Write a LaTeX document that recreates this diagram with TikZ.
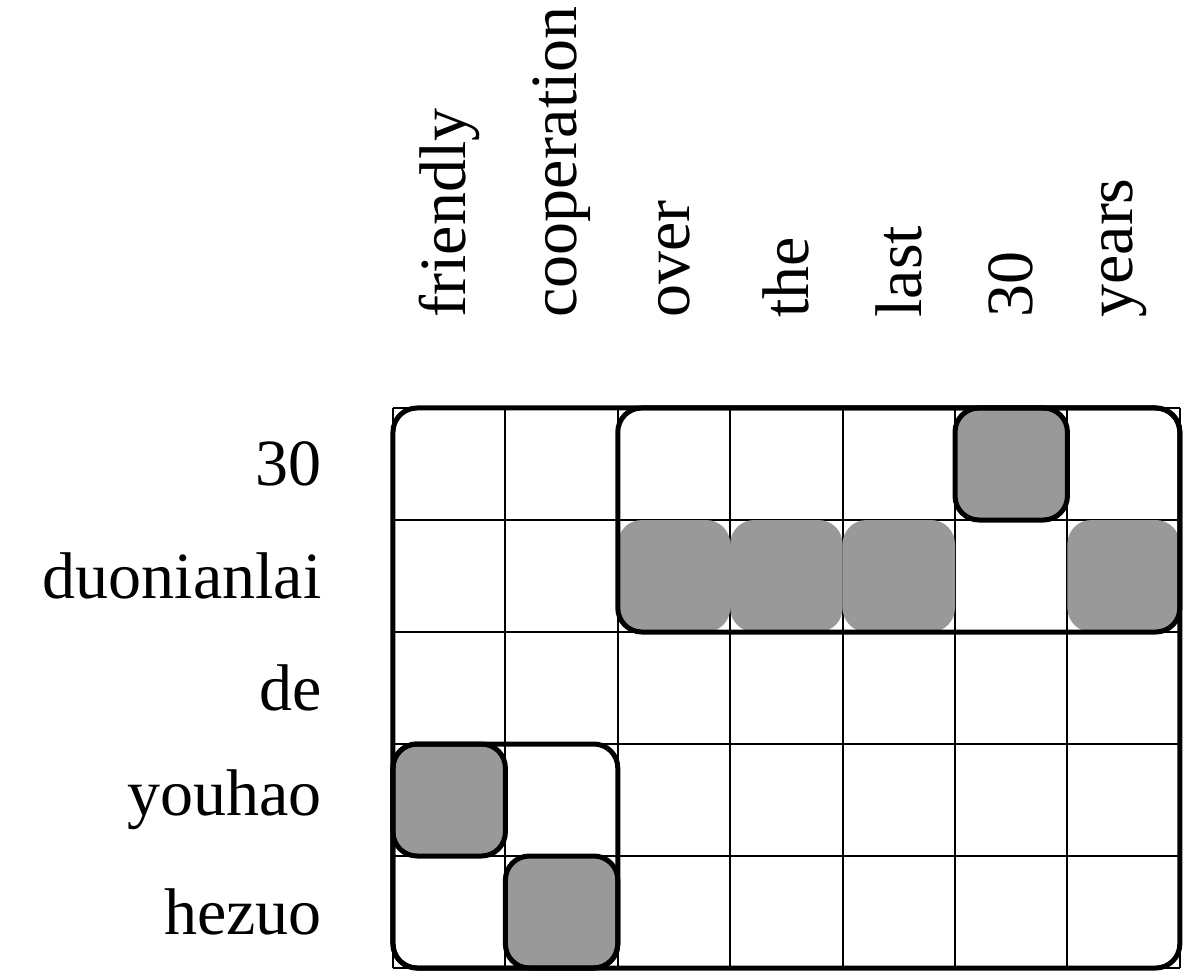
\documentclass[tikz,border=0pt]{standalone}
\usepackage{fontspec}
\setmainfont{Liberation Serif}
\begin{document}
\begin{tikzpicture}[x=56.2pt,y=-56pt,
  gridline/.style={line width=1pt},
  region/.style={line width=2.5pt, rounded corners=12pt},
  hit/.style={fill=black!40, rounded corners=12pt},
  lbl/.style={font=\fontsize{33}{39}\selectfont, inner sep=0pt}]
\useasboundingbox (-3.4964,-3.6429) rectangle (7.0907,5.0536);
% grid
\foreach \c in {0,...,7} \draw[gridline] (\c,0) -- (\c,5);
\foreach \r in {0,...,5} \draw[gridline] (0,\r) -- (7,\r);
% gray alignment cells without border
\foreach \c in {2,3,4,6} \fill[hit] (\c,1) rectangle ++(1,1);
% gray cells with border
\draw[region,hit] (5,0) rectangle (6,1);
\draw[region,hit] (0,3) rectangle (1,4);
\draw[region,hit] (1,4) rectangle (2,5);
% region boxes
\draw[region] (2,0) rectangle (7,2);
\draw[region] (0,3) rectangle (2,5);
\draw[region] (0,0) rectangle (7,5);
% row labels
\foreach \t [count=\i from 0] in {30,duonianlai,de,youhao,hezuo}
  \node[lbl, anchor=east] (r\i) at (-0.6317,\i+0.5) {\t};
% column labels
\foreach \t [count=\i from 0] in {friendly,cooperation,over,the,last,30,years}
  \node[lbl, anchor=west, rotate=90] (c\i) at (\i+0.5,-0.8036) {\t};
\end{tikzpicture}
\end{document}
